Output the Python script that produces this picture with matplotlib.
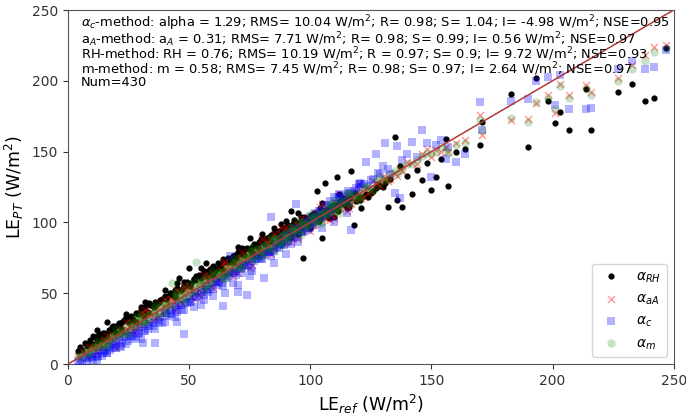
import matplotlib
matplotlib.use('Agg')
import matplotlib.pyplot as plt

# LE de referencia y LE estimado por cada método (W/m2)
le_ref = [4, 5, 6, 7, 8, 9, 10, 11, 12, 13,
          14, 15, 16, 17, 18, 19, 20, 21, 22, 23,
          24, 25, 26, 27, 28, 29, 30, 31, 32, 33,
          34, 35, 36, 37, 38, 39, 40, 41, 42, 43,
          44, 45, 46, 47, 48, 49, 50, 51, 52, 53,
          54, 55, 56, 57, 58, 59, 60, 61, 62, 63,
          64, 65, 66, 67, 68, 69, 70, 71, 72, 73,
          74, 75, 76, 77, 78, 79, 80, 81, 82, 83,
          84, 85, 86, 87, 88, 89, 90, 91, 92, 93,
          94, 95, 96, 97, 98, 99, 100, 101, 102, 103,
          104, 105, 106, 107, 108, 109, 110, 111, 112, 113,
          115, 117, 118, 120, 121, 123, 125, 127, 129, 131,
          132, 135, 136, 137, 138, 142, 146, 150, 152, 156,
          157, 160, 164, 170, 171, 183, 190, 193, 198, 201,
          203, 207, 214, 216, 227, 233, 238, 242, 247,
          8.5, 12.5, 15.5, 18.5, 22.5, 26.5, 33.5, 44.5, 48.5, 55.5,
          58.5, 62.5, 65.5, 68.5, 71.5, 74.5, 77.5, 80.5, 82.5, 84.5,
          86.5, 88.5, 90.5, 92.5, 94.5, 96.5, 98.5, 100.5, 102.5, 104.5,
          106.5, 108.5, 110.5, 112.5, 114.5, 116.5, 119, 122, 126, 128,
          10.5, 14.5, 17.5, 21.5, 25.5, 29.5, 31.5, 35.5, 37.5, 40.5,
          42.5, 46.5, 50.5, 52.5, 57.5, 60.5, 63.5, 66.5, 69.5, 72.5,
          75.5, 78.5, 79.5, 81.5, 83.5, 85.5, 87.5, 89.5, 91.5, 93.5,
          95.5, 97.5, 99.5, 101.5, 103.5, 105.5, 107.5, 109.5, 111.5, 113.5,
          115.5, 118.5, 120.5, 124, 130, 133, 140, 144, 148, 154,
          12, 16, 20, 24, 28, 32, 36, 40, 44, 48,
          52, 56, 60, 64, 68, 72, 76, 80, 84, 88,
          92, 96, 100, 104, 108, 112, 116, 120, 45, 55,
          65, 75, 85, 95, 105, 115, 30, 70, 90, 110]

le_rh = [9, 12, 10, 15, 13, 17, 14, 19, 16, 21,
         18, 22, 20, 24, 26, 23, 27, 29, 25, 31,
         33, 30, 34, 32, 36, 35, 38, 37, 40, 37,
         42, 41, 44, 43, 45, 46, 48, 47, 50, 49,
         52, 54, 61, 53, 56, 58, 68, 57, 60, 62,
         63, 61, 65, 71, 66, 64, 69, 67, 71, 70,
         72, 73, 75, 74, 76, 77, 79, 78, 80, 81,
         82, 89, 83, 85, 84, 86, 87, 88, 89, 90,
         91, 92, 93, 94, 95, 96, 97, 98, 108, 99,
         100, 107, 101, 75, 102, 103, 104, 103, 105, 122,
         105, 89, 128, 108, 110, 109, 112, 132, 113, 114,
         116, 136, 98, 118, 110, 120, 121, 124, 126, 128,
         111, 160, 116, 140, 111, 120, 130, 123, 132, 159,
         126, 150, 152, 155, 171, 191, 153, 202, 186, 170,
         178, 165, 194, 165, 192, 198, 186, 188, 223,
         15, 20, 19, 27, 30, 31, 43, 51, 55, 63,
         67, 68, 74, 75, 80, 81, 84, 86, 88, 92,
         91, 94, 96, 98, 98, 101, 100, 105, 106, 104,
         109, 111, 110, 115, 112, 117, 115, 119, 122, 127,
         20, 22, 23, 28, 31, 36, 34, 40, 44, 46,
         50, 52, 55, 59, 62, 66, 67, 72, 75, 77,
         80, 83, 88, 85, 87, 94, 90, 95, 93, 102,
         97, 104, 99, 107, 101, 106, 104, 111, 108, 117,
         112, 121, 116, 118, 125, 131, 133, 137, 142, 145,
         24, 30, 22, 35, 30, 44, 41, 52, 47, 58,
         60, 66, 63, 74, 72, 82, 78, 92, 86, 99,
         90, 104, 96, 110, 103, 120, 111, 117, 57, 68,
         72, 81, 96, 92, 114, 110, 40, 83, 101, 104]

le_aa = [6, 4, 9, 8, 5, 12, 7, 13, 9, 15,
         12, 17, 14, 16, 21, 19, 11, 20, 23, 22,
         25, 24, 29, 23, 31, 26, 33, 28, 35, 30,
         37, 31, 39, 34, 43, 36, 41, 44, 40, 46,
         44, 47, 51, 43, 49, 52, 55, 47, 54, 50,
         58, 51, 56, 59, 62, 55, 64, 58, 61, 66,
         63, 68, 64, 70, 66, 72, 69, 74, 70, 76,
         73, 78, 75, 80, 77, 79, 84, 78, 86, 80,
         88, 82, 89, 86, 92, 85, 90, 94, 89, 96,
         93, 98, 94, 99, 101, 96, 103, 98, 106, 100,
         104, 108, 103, 110, 106, 111, 109, 113, 110, 116,
         116, 113, 118, 120, 117, 124, 122, 128, 126, 130,
         129, 135, 133, 138, 136, 142, 148, 146, 151, 153,
         150, 156, 158, 176, 162, 172, 173, 184, 190, 177,
         198, 190, 197, 192, 202, 211, 218, 224, 225,
         11, 12, 17, 17, 25, 24, 36, 42, 52, 54,
         61, 60, 69, 66, 75, 72, 80, 79, 86, 83,
         90, 86, 94, 90, 98, 95, 102, 98, 106, 102,
         110, 106, 114, 110, 118, 114, 122, 118, 129, 127,
         12, 13, 19, 20, 27, 28, 33, 34, 39, 38,
         45, 44, 52, 50, 59, 58, 66, 64, 72, 70,
         78, 76, 82, 79, 87, 83, 90, 87, 95, 91,
         98, 96, 102, 99, 106, 103, 110, 107, 113, 111,
         118, 116, 123, 121, 133, 131, 143, 141, 152, 150,
         8, 20, 14, 30, 24, 38, 32, 46, 38, 55,
         46, 63, 54, 71, 62, 79, 70, 88, 78, 96,
         86, 103, 94, 111, 102, 120, 110, 127, 52, 48,
         72, 68, 92, 88, 113, 108, 36, 64, 97, 103]

le_c = [2, 1, 3, 4, 2, 6, 5, 7, 3, 9,
        6, 10, 8, 12, 14, 11, 16, 17, 12, 19,
        20, 16, 22, 18, 24, 21, 26, 15, 28, 25,
        30, 27, 15, 31, 33, 29, 36, 34, 38, 35,
        40, 37, 42, 38, 21, 43, 46, 44, 48, 47,
        47, 52, 49, 55, 51, 57, 53, 58, 56, 61,
        41, 62, 63, 76, 65, 66, 51, 68, 70, 69,
        49, 72, 74, 73, 76, 75, 78, 61, 80, 79,
        104, 80, 86, 82, 89, 84, 91, 86, 93, 89,
        113, 90, 97, 93, 100, 95, 104, 98, 107, 101,
        108, 103, 112, 106, 115, 109, 118, 111, 120, 114,
        120, 95, 122, 125, 127, 143, 130, 148, 134, 156,
        138, 121, 154, 117, 144, 157, 165, 132, 155, 145,
        153, 143, 148, 185, 165, 186, 187, 200, 203, 183,
        204, 180, 180, 181, 208, 214, 208, 210, 222,
        4, 6, 9, 13, 15, 20, 27, 39, 44, 51,
        53, 58, 61, 64, 67, 70, 74, 77, 79, 81,
        83, 85, 87, 91, 93, 94, 96, 99, 103, 104,
        107, 111, 113, 117, 119, 121, 124, 127, 131, 135,
        3, 8, 10, 13, 20, 22, 23, 29, 30, 36,
        35, 42, 44, 50, 52, 58, 57, 64, 63, 70,
        68, 77, 74, 82, 79, 86, 85, 91, 90, 96,
        94, 99, 102, 100, 108, 106, 112, 110, 118, 115,
        122, 120, 128, 126, 140, 134, 148, 146, 156, 158,
        5, 8, 11, 14, 19, 23, 25, 30, 33, 38,
        40, 45, 48, 55, 57, 64, 66, 74, 76, 84,
        85, 93, 96, 104, 106, 116, 114, 127, 30, 42,
        50, 62, 71, 86, 96, 107, 18, 56, 78, 100]

le_m = [6, 5, 7, 10, 8, 9, 11, 12, 13, 12,
        15, 14, 18, 16, 20, 21, 19, 22, 24, 23,
        27, 22, 29, 27, 27, 31, 30, 33, 31, 35,
        35, 37, 40, 34, 41, 42, 39, 44, 42, 57,
        47, 46, 45, 50, 53, 47, 56, 52, 51, 72,
        55, 57, 60, 55, 62, 61, 59, 64, 63, 65,
        66, 67, 64, 70, 68, 72, 71, 69, 75, 74,
        76, 77, 79, 74, 81, 80, 78, 84, 82, 85,
        85, 88, 86, 90, 87, 92, 89, 93, 91, 94,
        96, 95, 98, 100, 97, 101, 99, 104, 100, 105,
        106, 105, 110, 107, 109, 112, 108, 113, 111, 114,
        117, 114, 119, 121, 118, 125, 123, 129, 127, 131,
        130, 136, 134, 139, 137, 141, 147, 148, 150, 152,
        149, 155, 156, 172, 165, 174, 171, 185, 188, 180,
        196, 188, 195, 190, 200, 208, 214, 220, 223,
        7, 14, 13, 20, 21, 29, 32, 47, 47, 58,
        57, 64, 64, 71, 70, 77, 76, 83, 81, 88,
        85, 91, 89, 96, 93, 100, 97, 104, 101, 107,
        105, 112, 108, 116, 112, 120, 117, 125, 123, 132,
        11, 16, 18, 22, 26, 31, 30, 37, 36, 42,
        42, 49, 50, 55, 56, 63, 62, 69, 68, 74,
        74, 81, 79, 84, 83, 88, 86, 92, 90, 95,
        94, 99, 98, 103, 102, 107, 106, 111, 110, 115,
        114, 120, 119, 125, 131, 134, 141, 144, 149, 153,
        16, 13, 25, 21, 34, 29, 42, 36, 50, 44,
        58, 52, 66, 60, 74, 68, 82, 76, 90, 84,
        97, 91, 106, 99, 113, 107, 121, 115, 51, 59,
        61, 80, 80, 101, 100, 121, 35, 75, 86, 116]

texto = ('$\\alpha_c$-method: alpha = 1.29; RMS= 10.04 W/m$^2$; R= 0.98; S= 1.04; I= -4.98 W/m$^2$; NSE=0.95\n'
         'a$_A$-method: a$_A$ = 0.31; RMS= 7.71 W/m$^2$; R= 0.98; S= 0.99; I= 0.56 W/m$^2$; NSE=0.97\n'
         'RH-method: RH = 0.76; RMS= 10.19 W/m$^2$; R = 0.97; S= 0.9; I= 9.72 W/m$^2$; NSE=0.93\n'
         'm-method: m = 0.58; RMS= 7.45 W/m$^2$; R= 0.98; S= 0.97; I= 2.64 W/m$^2$; NSE=0.97\n'
         'Num=430')

fig = plt.figure(figsize=(6.86, 4.17), dpi=100)
ax = fig.add_axes([0.099, 0.127, 0.883, 0.849])

ax.scatter(le_ref, le_rh, s=12, color='black', marker='o', label='$\\alpha_{RH}$', zorder=2)
ax.scatter(le_ref, le_aa, s=26, color='red', marker='x', alpha=0.4, linewidths=1, label='$\\alpha_{aA}$', zorder=3)
ax.scatter(le_ref, le_c, s=40, color='blue', marker='s', alpha=0.3, linewidths=0, label='$\\alpha_c$', zorder=4)
ax.scatter(le_ref, le_m, s=36, color='green', marker='o', alpha=0.22, linewidths=0, label='$\\alpha_m$', zorder=5)
ax.plot([0, 250], [0, 250], color='#b03a3a', linewidth=1.1, zorder=6)

ax.set_xlim(0, 250)
ax.set_ylim(0, 250)
ax.set_xticks([0, 50, 100, 150, 200, 250])
ax.set_yticks([0, 50, 100, 150, 200, 250])
ax.tick_params(labelsize=10, colors='#333333')
for sp in ax.spines.values():
    sp.set_color('#555555')
ax.set_xlabel('LE$_{ref}$ (W/m$^2$)', fontsize=12.5)
ax.set_ylabel('LE$_{PT}$ (W/m$^2$)', fontsize=12.5)

ax.text(0.022, 0.99, texto, transform=ax.transAxes, fontsize=9.4, va='top', ha='left',
        linespacing=0.78, zorder=7)

ax.legend(loc='lower right', fontsize=10, framealpha=0.8)
fig.savefig('out.png', dpi=100)
